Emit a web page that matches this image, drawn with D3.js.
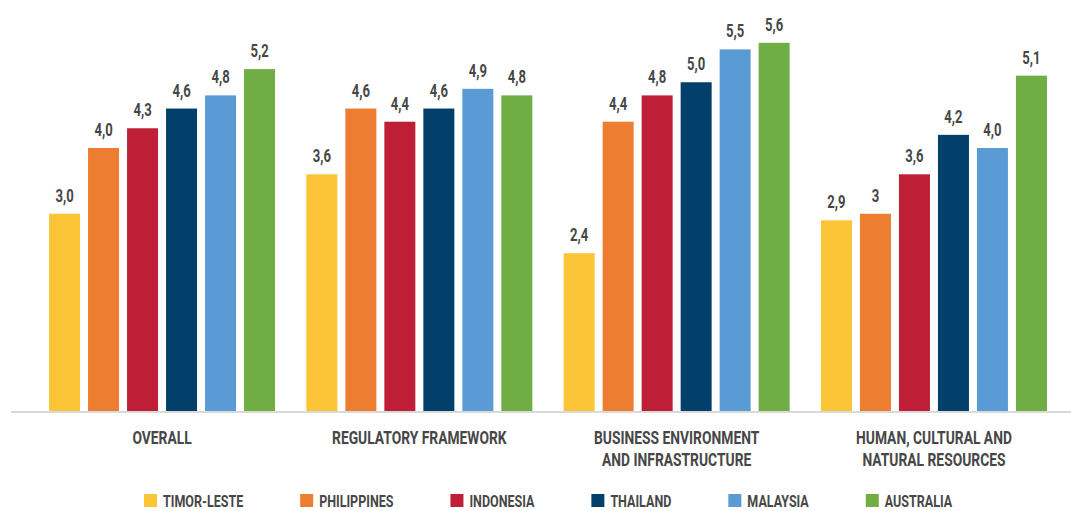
<!DOCTYPE html>
<html>
<head>
<meta charset="utf-8">
<script src="https://cdn.jsdelivr.net/npm/d3@7"></script>
<style>
  html, body { margin: 0; padding: 0; background: #ffffff; }
  svg { display: block; }
  text { font-family: Roboto, "Liberation Sans", sans-serif; font-weight: 700; }
</style>
</head>
<body>
<svg id="chart" width="1071" height="511"></svg>
<script>
const categories = [
  ["OVERALL"],
  ["REGULATORY FRAMEWORK"],
  ["BUSINESS ENVIRONMENT", "AND INFRASTRUCTURE"],
  ["HUMAN, CULTURAL AND", "NATURAL RESOURCES"]
];
const seriesNames = ["TIMOR-LESTE", "PHILIPPINES", "INDONESIA", "THAILAND", "MALAYSIA", "AUSTRALIA"];
const seriesColors = ["#FCC437", "#ED7D31", "#BE1F36", "#023F6B", "#5B9BD5", "#70AD45"];
const timorLeste  = [3.0, 3.6, 2.4, 2.9];
const philippines = [4.0, 4.6, 4.4, 3.0];
const indonesia   = [4.3, 4.4, 4.8, 3.6];
const thailand    = [4.6, 4.6, 5.0, 4.2];
const malaysia    = [4.8, 4.9, 5.5, 4.0];
const australia   = [5.2, 4.8, 5.6, 5.1];
const valueLabels = [
  ["3,0", "3,6", "2,4", "2,9"],
  ["4,0", "4,6", "4,4", "3"],
  ["4,3", "4,4", "4,8", "3,6"],
  ["4,6", "4,6", "5,0", "4,2"],
  ["4,8", "4,9", "5,5", "4,0"],
  ["5,2", "4,8", "5,6", "5,1"]
];
const seriesValues = [timorLeste, philippines, indonesia, thailand, malaysia, australia];

const svg = d3.select("#chart");
const SX = 0.74;      // horizontal squeeze for condensed look
const SXV = 0.70;     // squeeze for value labels
const textColor = "#474747";

const catKeys = categories.map((c, i) => i);
const x0 = d3.scaleBand().domain(catKeys).range([33.4, 1062.6]).paddingInner(0).paddingOuter(0);
const groupW = 226;
const x1 = d3.scaleBand().domain(d3.range(seriesNames.length)).range([0, groupW]).paddingInner(8 / 39).paddingOuter(0);
const y = d3.scaleLinear().domain([0, 6]).range([411, 16.5]);

const groupOffset = (x0.bandwidth() - groupW) / 2;

// axis baseline
svg.append("line")
  .attr("x1", 11).attr("x2", 1071)
  .attr("y1", 412).attr("y2", 412)
  .attr("stroke", "#d9d9d9").attr("stroke-width", 2);

const groups = svg.selectAll("g.grp").data(catKeys).enter().append("g")
  .attr("class", "grp")
  .attr("transform", d => `translate(${x0(d) + groupOffset},0)`);

groups.selectAll("rect").data(ci => seriesValues.map((vals, si) => ({ si, ci, v: vals[ci] })))
  .enter().append("rect")
  .attr("x", d => x1(d.si))
  .attr("width", x1.bandwidth())
  .attr("y", d => y(d.v))
  .attr("height", d => y(0) - y(d.v))
  .attr("fill", d => seriesColors[d.si]);

groups.selectAll("text.val").data(ci => seriesValues.map((vals, si) => ({ si, ci, v: vals[ci] })))
  .enter().append("text")
  .attr("class", "val")
  .attr("text-anchor", "middle")
  .attr("font-size", 18.7)
  .attr("fill", textColor)
  .attr("transform", d => `translate(${x1(d.si) + x1.bandwidth() / 2},${y(d.v) - 12}) scale(${SXV},1)`)
  .text(d => valueLabels[d.si][d.ci]);

// category labels
catKeys.forEach(ci => {
  const cx = x0(ci) + x0.bandwidth() / 2;
  categories[ci].forEach((line, li) => {
    svg.append("text")
      .attr("text-anchor", "middle")
      .attr("font-size", 18.7)
      .attr("fill", textColor)
      .attr("transform", `translate(${cx},${444 + li * 21.5}) scale(${SX},1)`)
      .text(line);
  });
});

// legend
const legend = svg.append("g");
let lx = 144;
const legendGap = 57;
seriesNames.forEach((name, si) => {
  const g = legend.append("g").attr("transform", `translate(${lx},0)`);
  g.append("rect").attr("x", 0).attr("y", 494).attr("width", 13).attr("height", 13).attr("fill", seriesColors[si]);
  const t = g.append("text")
    .attr("font-size", 16.9)
    .attr("fill", textColor)
    .attr("transform", `translate(19,507) scale(${SX},1)`)
    .text(name);
  const w = t.node().getComputedTextLength() * SX;
  lx += 19 + w + legendGap;
});
</script>
</body>
</html>
